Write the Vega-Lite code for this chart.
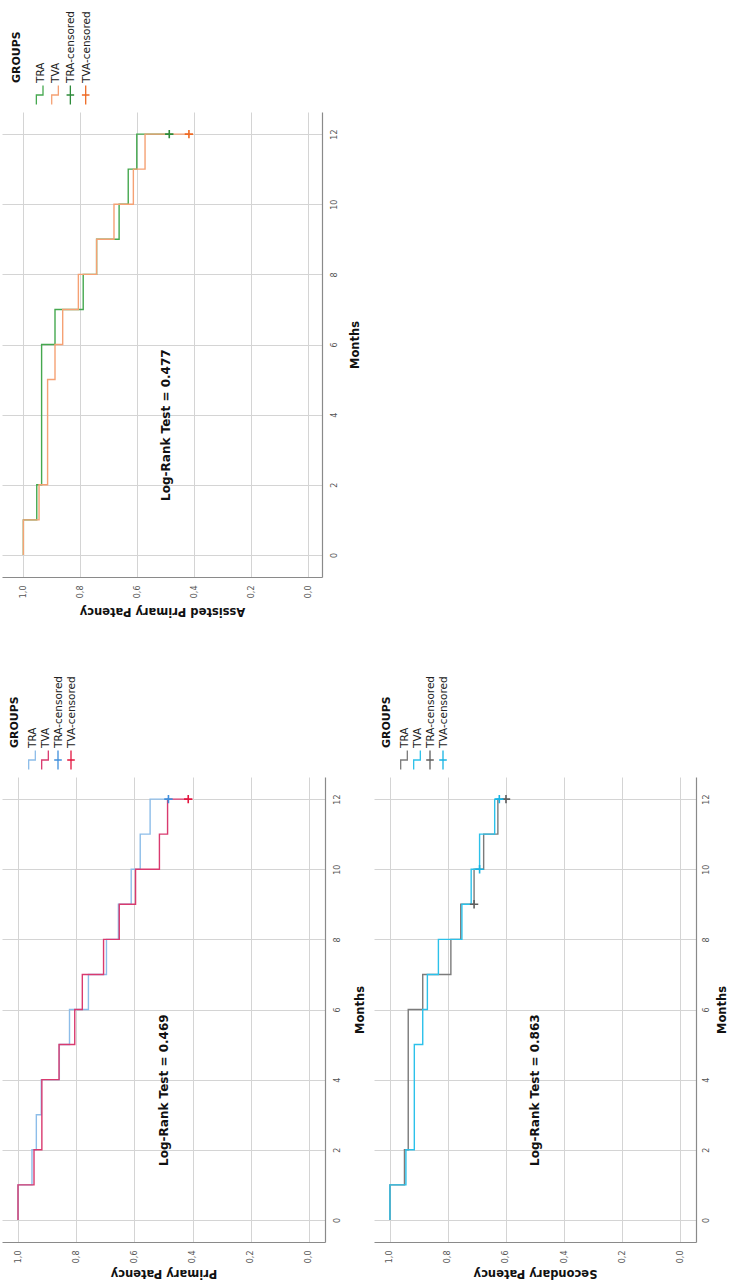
{
  "$schema": "https://vega.github.io/schema/vega-lite/v6.json",
  "padding": {"left": 2, "top": 10, "right": 0, "bottom": 4},
  "background": "white",
  "config": {
    "view": {"stroke": null},
    "font": "DejaVu Sans",
    "axis": {"labelFlush": false, "labelOverlap": false, "ticks": false, "grid": true, "gridColor": "#d4d4d4", "gridWidth": 1, "domainColor": "#8a8a8a", "domainWidth": 1.2, "labelColor": "#555555", "labelFontSize": 8, "labelFont": "DejaVu Sans", "titleFont": "DejaVu Sans", "titleColor": "#111111", "titleFontSize": 11.5, "titleFontWeight": "bold"},
    "style": {
      "legtitle": {"angle": -90, "align": "left", "baseline": "middle", "fontSize": 11, "fontWeight": "bold", "color": "#111111", "dx": 2},
      "leglabel": {"angle": -90, "align": "left", "baseline": "middle", "fontSize": 10.5, "color": "#222222", "dx": 2, "dy": 5},
      "leglabelA": {"angle": -90, "align": "left", "baseline": "middle", "fontSize": 10.5, "color": "#222222", "dx": 2, "dy": 8},
      "logrank": {"angle": -90, "align": "center", "baseline": "middle", "fontSize": 12, "fontWeight": "bold", "color": "#111111"}
    }
  },
  "datasets": {
    "A_steps": [
      {"group": "TRA", "month": 0, "survival": 1.0}, {"group": "TRA", "month": 1, "survival": 0.953}, {"group": "TRA", "month": 2, "survival": 0.936}, {"group": "TRA", "month": 6, "survival": 0.889}, {"group": "TRA", "month": 7, "survival": 0.79}, {"group": "TRA", "month": 8, "survival": 0.743}, {"group": "TRA", "month": 9, "survival": 0.664}, {"group": "TRA", "month": 10, "survival": 0.632}, {"group": "TRA", "month": 11, "survival": 0.602}, {"group": "TRA", "month": 12, "survival": 0.488},
      {"group": "TVA", "month": 0, "survival": 1.0}, {"group": "TVA", "month": 1, "survival": 0.945}, {"group": "TVA", "month": 2, "survival": 0.915}, {"group": "TVA", "month": 5, "survival": 0.889}, {"group": "TVA", "month": 6, "survival": 0.862}, {"group": "TVA", "month": 7, "survival": 0.807}, {"group": "TVA", "month": 8, "survival": 0.743}, {"group": "TVA", "month": 9, "survival": 0.682}, {"group": "TVA", "month": 10, "survival": 0.614}, {"group": "TVA", "month": 11, "survival": 0.573}, {"group": "TVA", "month": 12, "survival": 0.419}
    ],
    "A_cens": [{"group": "TRA-censored", "month": 12, "survival": 0.488}, {"group": "TVA-censored", "month": 12, "survival": 0.419}],
    "A_test": [{"label": "Log-Rank Test = 0.477"}],
    "P_steps": [
      {"group": "TRA", "month": 0, "survival": 1.0}, {"group": "TRA", "month": 1, "survival": 0.952}, {"group": "TRA", "month": 2, "survival": 0.937}, {"group": "TRA", "month": 3, "survival": 0.92}, {"group": "TRA", "month": 4, "survival": 0.858}, {"group": "TRA", "month": 5, "survival": 0.823}, {"group": "TRA", "month": 6, "survival": 0.758}, {"group": "TRA", "month": 7, "survival": 0.696}, {"group": "TRA", "month": 8, "survival": 0.655}, {"group": "TRA", "month": 9, "survival": 0.611}, {"group": "TRA", "month": 10, "survival": 0.58}, {"group": "TRA", "month": 11, "survival": 0.546}, {"group": "TRA", "month": 12, "survival": 0.483},
      {"group": "TVA", "month": 0, "survival": 1.0}, {"group": "TVA", "month": 1, "survival": 0.945}, {"group": "TVA", "month": 2, "survival": 0.918}, {"group": "TVA", "month": 4, "survival": 0.859}, {"group": "TVA", "month": 5, "survival": 0.805}, {"group": "TVA", "month": 6, "survival": 0.779}, {"group": "TVA", "month": 7, "survival": 0.706}, {"group": "TVA", "month": 8, "survival": 0.652}, {"group": "TVA", "month": 9, "survival": 0.596}, {"group": "TVA", "month": 10, "survival": 0.514}, {"group": "TVA", "month": 11, "survival": 0.486}, {"group": "TVA", "month": 12, "survival": 0.415}
    ],
    "P_cens": [{"group": "TRA-censored", "month": 12, "survival": 0.483}, {"group": "TVA-censored", "month": 12, "survival": 0.415}],
    "P_test": [{"label": "Log-Rank Test = 0.469"}],
    "S_steps": [
      {"group": "TRA", "month": 0, "survival": 1.0}, {"group": "TRA", "month": 1, "survival": 0.95}, {"group": "TRA", "month": 2, "survival": 0.937}, {"group": "TRA", "month": 6, "survival": 0.887}, {"group": "TRA", "month": 7, "survival": 0.79}, {"group": "TRA", "month": 8, "survival": 0.756}, {"group": "TRA", "month": 9, "survival": 0.71}, {"group": "TRA", "month": 10, "survival": 0.677}, {"group": "TRA", "month": 11, "survival": 0.628}, {"group": "TRA", "month": 12, "survival": 0.6},
      {"group": "TVA", "month": 0, "survival": 1.0}, {"group": "TVA", "month": 1, "survival": 0.945}, {"group": "TVA", "month": 2, "survival": 0.916}, {"group": "TVA", "month": 5, "survival": 0.887}, {"group": "TVA", "month": 6, "survival": 0.871}, {"group": "TVA", "month": 7, "survival": 0.833}, {"group": "TVA", "month": 8, "survival": 0.752}, {"group": "TVA", "month": 9, "survival": 0.72}, {"group": "TVA", "month": 10, "survival": 0.691}, {"group": "TVA", "month": 11, "survival": 0.639}, {"group": "TVA", "month": 12, "survival": 0.623}
    ],
    "S_cens": [{"group": "TRA-censored", "month": 9, "survival": 0.71}, {"group": "TRA-censored", "month": 12, "survival": 0.6}, {"group": "TVA-censored", "month": 10, "survival": 0.691}, {"group": "TVA-censored", "month": 12, "survival": 0.623}],
    "S_test": [{"label": "Log-Rank Test = 0.863"}],
    "legend_title": [{"entry": "GROUPS"}],
    "legend_labels": [{"entry": "TRA"}, {"entry": "TVA"}, {"entry": "TRA-censored"}, {"entry": "TVA-censored"}],
    "legend_steps": [{"entry": "TRA"}, {"entry": "TVA"}],
    "legend_cross": [{"entry": "TRA-censored"}, {"entry": "TVA-censored"}]
  },
  "resolve": {"scale": {"color": "independent"}},
  "spacing": 58,
  "vconcat": [
    {
      "resolve": {"scale": {"color": "independent"}},
      "spacing": 4,
      "vconcat": [
        {
          "width": {"step": 13}, "height": 40,
          "layer": [
            {"data": {"name": "legend_title"}, "mark": {"type": "text", "style": "legtitle"},
             "encoding": {"x": {"field": "entry", "type": "nominal", "scale": {"type": "point", "domain": ["GROUPS", "TRA", "TVA", "TRA-censored", "TVA-censored"], "padding": 1.54}, "axis": null}, "text": {"field": "entry"}}},
            {"data": {"name": "legend_labels"}, "mark": {"type": "text", "style": "leglabelA"},
             "encoding": {"x": {"field": "entry", "type": "nominal"}, "text": {"field": "entry"}}},
            {"data": {"name": "legend_steps"}, "mark": {"type": "point", "shape": "M-0.35,1L-0.35,0L0.35,0L0.35,-1", "filled": false, "size": 360, "strokeWidth": 1.3, "opacity": 1, "yOffset": 10, "xOffset": 7},
             "encoding": {"x": {"field": "entry", "type": "nominal"}, "color": {"field": "entry", "type": "nominal", "scale": {"domain": ["TRA", "TVA", "TRA-censored", "TVA-censored"], "range": ["#45a84f", "#f5a174", "#2e8b3a", "#ee6a24"]}, "legend": null}}},
            {"data": {"name": "legend_cross"}, "mark": {"type": "point", "shape": "M0,-1L0,1M-0.4,0L0.4,0", "filled": false, "size": 360, "strokeWidth": 1.3, "opacity": 1, "yOffset": 10, "xOffset": 7},
             "encoding": {"x": {"field": "entry", "type": "nominal"}, "color": {"field": "entry", "type": "nominal", "legend": null}}}
          ]
        },
        {
          "width": 320, "height": 465,
          "layer": [
            {"data": {"name": "A_steps"}, "mark": {"type": "line", "interpolate": "step-before", "strokeWidth": 1.4},
             "encoding": {
               "x": {"field": "survival", "type": "quantitative", "scale": {"domain": [-0.048, 1.075], "reverse": true, "nice": false, "zero": false},
                     "axis": {"orient": "bottom", "values": [0, 0.2, 0.4, 0.6, 0.8, 1], "labelExpr": "replace(format(datum.value, '.1f'), '.', ',')", "labelAngle": -90, "labelAlign": "right", "labelBaseline": "middle", "labelPadding": 8, "title": "Assisted Primary Patency", "titleAngle": 180, "titleBaseline": "bottom", "titlePadding": 8}},
               "y": {"field": "month", "type": "quantitative", "scale": {"domain": [-0.63, 12.63], "nice": false, "zero": false},
                     "axis": {"orient": "right", "values": [0, 2, 4, 6, 8, 10, 12], "labelAngle": -90, "labelAlign": "center", "labelBaseline": "top", "labelPadding": 8, "title": "Months", "titleAngle": -90, "titleBaseline": "top", "titlePadding": 11}},
               "color": {"field": "group", "type": "nominal", "scale": {"domain": ["TRA", "TVA", "TRA-censored", "TVA-censored"], "range": ["#45a84f", "#f5a174", "#2e8b3a", "#ee6a24"]}, "legend": null},
               "order": {"field": "month", "type": "quantitative"}
             }},
            {"data": {"name": "A_cens"}, "mark": {"type": "point", "shape": "M-1,0L1,0M0,-1L0,1", "filled": false, "size": 70, "strokeWidth": 1.6, "opacity": 1},
             "encoding": {"x": {"field": "survival", "type": "quantitative"}, "y": {"field": "month", "type": "quantitative"}, "color": {"field": "group", "type": "nominal", "legend": null}}},
            {"data": {"name": "A_test"}, "mark": {"type": "text", "style": "logrank"},
             "encoding": {"x": {"datum": 0.5}, "y": {"datum": 3.7}, "text": {"field": "label"}}}
          ]
        }
      ]
    },
    {
      "resolve": {"scale": {"color": "independent"}},
      "spacing": 8,
      "hconcat": [
        {
          "resolve": {"scale": {"color": "independent"}},
          "spacing": 4,
          "vconcat": [
            {
              "width": {"step": 13}, "height": 40,
              "layer": [
                {"data": {"name": "legend_title"}, "mark": {"type": "text", "style": "legtitle"},
                 "encoding": {"x": {"field": "entry", "type": "nominal", "scale": {"type": "point", "domain": ["GROUPS", "TRA", "TVA", "TRA-censored", "TVA-censored"], "padding": 1}, "axis": null}, "text": {"field": "entry"}}},
                {"data": {"name": "legend_labels"}, "mark": {"type": "text", "style": "leglabel"},
                 "encoding": {"x": {"field": "entry", "type": "nominal"}, "text": {"field": "entry"}}},
                {"data": {"name": "legend_steps"}, "mark": {"type": "point", "shape": "M-0.35,1L-0.35,0L0.35,0L0.35,-1", "filled": false, "size": 360, "strokeWidth": 1.3, "opacity": 1, "yOffset": 10, "xOffset": 4},
                 "encoding": {"x": {"field": "entry", "type": "nominal"}, "color": {"field": "entry", "type": "nominal", "scale": {"domain": ["TRA", "TVA", "TRA-censored", "TVA-censored"], "range": ["#8dbde9", "#d93a6f", "#3f8fdc", "#e3163f"]}, "legend": null}}},
                {"data": {"name": "legend_cross"}, "mark": {"type": "point", "shape": "M0,-1L0,1M-0.4,0L0.4,0", "filled": false, "size": 360, "strokeWidth": 1.3, "opacity": 1, "yOffset": 10, "xOffset": 4},
                 "encoding": {"x": {"field": "entry", "type": "nominal"}, "color": {"field": "entry", "type": "nominal", "legend": null}}}
              ]
            },
            {
              "width": 323, "height": 465,
              "layer": [
                {"data": {"name": "P_steps"}, "mark": {"type": "line", "interpolate": "step-before", "strokeWidth": 1.4},
                 "encoding": {
                   "x": {"field": "survival", "type": "quantitative", "scale": {"domain": [-0.055, 1.055], "reverse": true, "nice": false, "zero": false},
                         "axis": {"orient": "bottom", "values": [0, 0.2, 0.4, 0.6, 0.8, 1], "labelExpr": "replace(format(datum.value, '.1f'), '.', ',')", "labelAngle": -90, "labelAlign": "right", "labelBaseline": "middle", "labelPadding": 8, "title": "Primary Patency", "titleAngle": 180, "titleBaseline": "bottom", "titlePadding": 5}},
                   "y": {"field": "month", "type": "quantitative", "scale": {"domain": [-0.63, 12.63], "nice": false, "zero": false},
                         "axis": {"orient": "right", "values": [0, 2, 4, 6, 8, 10, 12], "labelAngle": -90, "labelAlign": "center", "labelBaseline": "top", "labelPadding": 8, "title": "Months", "titleAngle": -90, "titleBaseline": "top", "titlePadding": 13}},
                   "color": {"field": "group", "type": "nominal", "scale": {"domain": ["TRA", "TVA", "TRA-censored", "TVA-censored"], "range": ["#8dbde9", "#d93a6f", "#3f8fdc", "#e3163f"]}, "legend": null},
                   "order": {"field": "month", "type": "quantitative"}
                 }},
                {"data": {"name": "P_cens"}, "mark": {"type": "point", "shape": "M-1,0L1,0M0,-1L0,1", "filled": false, "size": 70, "strokeWidth": 1.6, "opacity": 1},
                 "encoding": {"x": {"field": "survival", "type": "quantitative"}, "y": {"field": "month", "type": "quantitative"}, "color": {"field": "group", "type": "nominal", "legend": null}}},
                {"data": {"name": "P_test"}, "mark": {"type": "text", "style": "logrank"},
                 "encoding": {"x": {"datum": 0.5}, "y": {"datum": 3.7}, "text": {"field": "label"}}}
              ]
            }
          ]
        },
        {
          "resolve": {"scale": {"color": "independent"}},
          "spacing": 4,
          "vconcat": [
            {
              "width": {"step": 13}, "height": 40,
              "layer": [
                {"data": {"name": "legend_title"}, "mark": {"type": "text", "style": "legtitle"},
                 "encoding": {"x": {"field": "entry", "type": "nominal", "scale": {"type": "point", "domain": ["GROUPS", "TRA", "TVA", "TRA-censored", "TVA-censored"], "padding": 1}, "axis": null}, "text": {"field": "entry"}}},
                {"data": {"name": "legend_labels"}, "mark": {"type": "text", "style": "leglabel"},
                 "encoding": {"x": {"field": "entry", "type": "nominal"}, "text": {"field": "entry"}}},
                {"data": {"name": "legend_steps"}, "mark": {"type": "point", "shape": "M-0.35,1L-0.35,0L0.35,0L0.35,-1", "filled": false, "size": 360, "strokeWidth": 1.3, "opacity": 1, "yOffset": 10, "xOffset": 4},
                 "encoding": {"x": {"field": "entry", "type": "nominal"}, "color": {"field": "entry", "type": "nominal", "scale": {"domain": ["TRA", "TVA", "TRA-censored", "TVA-censored"], "range": ["#7b7b7b", "#2cc1ea", "#5f5f5f", "#17b4e4"]}, "legend": null}}},
                {"data": {"name": "legend_cross"}, "mark": {"type": "point", "shape": "M0,-1L0,1M-0.4,0L0.4,0", "filled": false, "size": 360, "strokeWidth": 1.3, "opacity": 1, "yOffset": 10, "xOffset": 4},
                 "encoding": {"x": {"field": "entry", "type": "nominal"}, "color": {"field": "entry", "type": "nominal", "legend": null}}}
              ]
            },
            {
              "width": 322, "height": 465,
              "layer": [
                {"data": {"name": "S_steps"}, "mark": {"type": "line", "interpolate": "step-before", "strokeWidth": 1.4},
                 "encoding": {
                   "x": {"field": "survival", "type": "quantitative", "scale": {"domain": [-0.055, 1.055], "reverse": true, "nice": false, "zero": false},
                         "axis": {"orient": "bottom", "values": [0, 0.2, 0.4, 0.6, 0.8, 1], "labelExpr": "replace(format(datum.value, '.1f'), '.', ',')", "labelAngle": -90, "labelAlign": "right", "labelBaseline": "middle", "labelPadding": 8, "title": "Secondary Patency", "titleAngle": 180, "titleBaseline": "bottom", "titlePadding": 5}},
                   "y": {"field": "month", "type": "quantitative", "scale": {"domain": [-0.63, 12.63], "nice": false, "zero": false},
                         "axis": {"orient": "right", "values": [0, 2, 4, 6, 8, 10, 12], "labelAngle": -90, "labelAlign": "center", "labelBaseline": "top", "labelPadding": 6, "title": "Months", "titleAngle": -90, "titleBaseline": "top", "titlePadding": 6}},
                   "color": {"field": "group", "type": "nominal", "scale": {"domain": ["TRA", "TVA", "TRA-censored", "TVA-censored"], "range": ["#7b7b7b", "#2cc1ea", "#5f5f5f", "#17b4e4"]}, "legend": null},
                   "order": {"field": "month", "type": "quantitative"}
                 }},
                {"data": {"name": "S_cens"}, "mark": {"type": "point", "shape": "M-1,0L1,0M0,-1L0,1", "filled": false, "size": 70, "strokeWidth": 1.6, "opacity": 1},
                 "encoding": {"x": {"field": "survival", "type": "quantitative"}, "y": {"field": "month", "type": "quantitative"}, "color": {"field": "group", "type": "nominal", "legend": null}}},
                {"data": {"name": "S_test"}, "mark": {"type": "text", "style": "logrank"},
                 "encoding": {"x": {"datum": 0.5}, "y": {"datum": 3.7}, "text": {"field": "label"}}}
              ]
            }
          ]
        }
      ]
    }
  ]
}
